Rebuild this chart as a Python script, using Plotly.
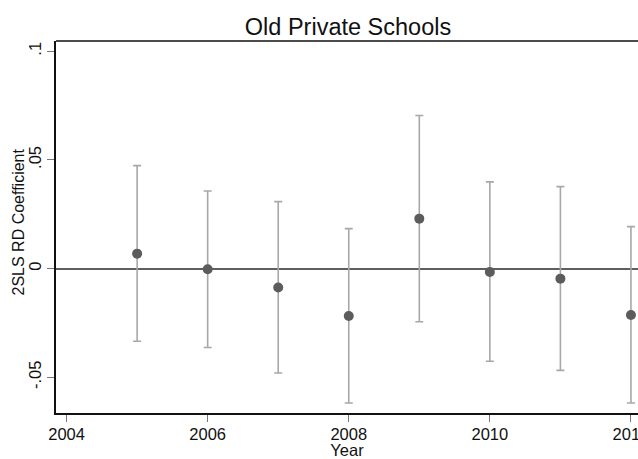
import plotly.graph_objects as go

years = [2005, 2006, 2007, 2008, 2009, 2010, 2011, 2012]
coef = [0.0069, -0.0003, -0.0087, -0.0218, 0.0230, -0.0015, -0.0046, -0.0213]
ci_upper = [0.0474, 0.0357, 0.0308, 0.0184, 0.0704, 0.0399, 0.0377, 0.0193]
ci_lower = [-0.0334, -0.0363, -0.0480, -0.0618, -0.0244, -0.0426, -0.0468, -0.0618]

x_ticks = [2004, 2006, 2008, 2010, 2012]
y_ticks = [-0.05, 0, 0.05, 0.1]
y_tick_labels = ["-.05", "0", ".05", ".1"]

err_plus = [u - c for u, c in zip(ci_upper, coef)]
err_minus = [c - l for c, l in zip(coef, ci_lower)]

FONT = "Liberation Sans, Arial, sans-serif"

fig = go.Figure()
fig.add_trace(go.Scatter(
    x=years, y=coef, mode="markers",
    marker=dict(size=10, color="#5c5c5c"),
    error_y=dict(type="data", symmetric=False, array=err_plus, arrayminus=err_minus,
                 color="#a8a8a8", thickness=1.6, width=4),
    showlegend=False, cliponaxis=False,
))

W, H = 638, 459
L, R, T, B = 56, 0, 41, 46
PW = W - L - R
PH = H - T - B

fig.update_layout(
    width=W, height=H,
    margin=dict(l=L, r=R, t=T, b=B, pad=0, autoexpand=False),
    paper_bgcolor="white", plot_bgcolor="white",
    font=dict(family=FONT, size=16.5, color="#111"),
    title=dict(text="Old Private Schools", x=348 / W, xanchor="center",
               y=1 - 27 / H, yanchor="middle", yref="container",
               font=dict(size=23.5, color="#111", family=FONT)),
    xaxis=dict(range=[2003.85, 2012.10], tickvals=x_ticks,
               ticktext=[str(v) for v in x_ticks], automargin=False,
               ticklabeloverflow="allow", ticklabelstandoff=-2,
               showgrid=False, zeroline=False, showline=True,
               linecolor="#111", linewidth=1.5, ticks="outside", ticklen=7,
               tickcolor="#777", tickwidth=1.3,
               title=dict(text="Year", standoff=0, font=dict(size=16.5)),
               tickfont=dict(size=16.5)),
    yaxis=dict(range=[-0.0664, 0.1047], tickvals=y_ticks, ticktext=y_tick_labels,
               automargin=False,
               tickangle=-90, showgrid=False, zeroline=True, zerolinecolor="#5f5f5f",
               zerolinewidth=2, showline=True, linecolor="#111", linewidth=1.5,
               ticks="outside", ticklen=7, tickcolor="#777", tickwidth=1.3,
               tickfont=dict(size=16.5)),
    annotations=[dict(text="2SLS RD Coefficient", xref="paper", yref="paper",
                      x=(18 - L) / PW, y=(H - B - 222.5) / PH,
                      xanchor="center", yanchor="middle",
                      textangle=-90, showarrow=False,
                      font=dict(size=16, color="#111", family=FONT))],
    shapes=[dict(type="line", xref="paper", yref="paper", x0=0, x1=1, y0=1, y1=1,
                 line=dict(color="#111", width=1.5))],
)

fig.write_html(
    "out.html",
    config={"displayModeBar": False},
    post_script="document.body.style.margin='0';document.body.style.overflow='hidden';",
)
